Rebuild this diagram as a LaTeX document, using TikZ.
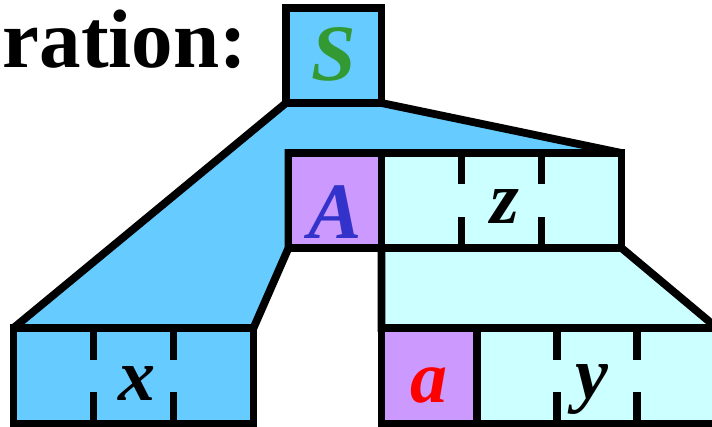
\documentclass[tikz,border=0pt]{standalone}
\usepackage{fontspec}
\setmainfont{Liberation Serif}
\definecolor{sblue}{HTML}{66CCFF}
\definecolor{scyan}{HTML}{CCFFFF}
\definecolor{spurple}{HTML}{CC99FF}
\definecolor{sgreen}{HTML}{339933}
\definecolor{sdblue}{HTML}{3333CC}
\begin{document}
\begin{tikzpicture}[x=1pt,y=-1pt, line width=7.8pt, line join=miter, miter limit=1.5,
  cell/.style={draw=black},
  tick/.style={draw=black},
  biglbl/.style={anchor=base, inner sep=0pt, font=\fontsize{80}{80}\selectfont\bfseries\itshape},
  smalllbl/.style={anchor=base, inner sep=0pt, font=\fontsize{74}{74}\selectfont\bfseries\itshape}]
\useasboundingbox (0,0) rectangle (712,426);
% key coordinates
\coordinate (Sbl) at (286,103);
\coordinate (Sbr) at (381.5,103);
\coordinate (Atl) at (288.5,153);
\coordinate (Abl) at (288.5,248);
\coordinate (Zbl) at (381.5,248);
\coordinate (Ztr) at (621.5,153);
\coordinate (Zbr) at (621.5,248);
\coordinate (Xtl) at (13.5,328);
\coordinate (Xtr) at (253.5,328);
\coordinate (atl) at (381.5,328);
\coordinate (Ytr) at (717,328);
% derivation trapezoids
\filldraw[fill=sblue, draw=black] (Sbl) -- (Xtl) -- (Xtr) -- (Abl) -- (Atl) -- (Ztr) -- (Sbr) -- cycle;
\filldraw[fill=scyan, draw=black] (Zbl) -- (atl) -- (Ytr) -- (Zbr) -- cycle;
% boxes
\filldraw[cell, fill=sblue] (286,8) rectangle (381.5,103);
\filldraw[cell, fill=spurple] (288.5,153) rectangle (381.5,248);
\filldraw[cell, fill=scyan] (381.5,153) rectangle (621.5,248);
\filldraw[cell, fill=sblue] (13.5,328) rectangle (253.5,424);
\filldraw[cell, fill=spurple] (381.5,328) rectangle (477,424);
\filldraw[cell, fill=scyan] (477,328) rectangle (717,424);
% ticks
\foreach \t in {461.5,541.5} {
  \draw[tick] (\t,153) -- (\t,184);
  \draw[tick] (\t,217) -- (\t,248);
}
\foreach \t in {93.5,173.5,557,637} {
  \draw[tick] (\t,328) -- (\t,360);
  \draw[tick] (\t,392) -- (\t,424);
}
% labels
\node[anchor=base west, inner sep=0pt, font=\fontsize{83}{83}\selectfont\bfseries] (title) at (-1,67) {ration:};
\node[biglbl, text=sgreen] (S) at (334,80) {S};
\node[biglbl, text=sdblue] (A) at (335,238) {A};
\node[smalllbl] (z) at (505,223) {z};
\node[smalllbl] (x) at (137,400) {x};
\node[smalllbl, text=red] (a) at (429,402) {a};
\node[smalllbl] (y) at (592,398) {y};
\end{tikzpicture}
\end{document}
